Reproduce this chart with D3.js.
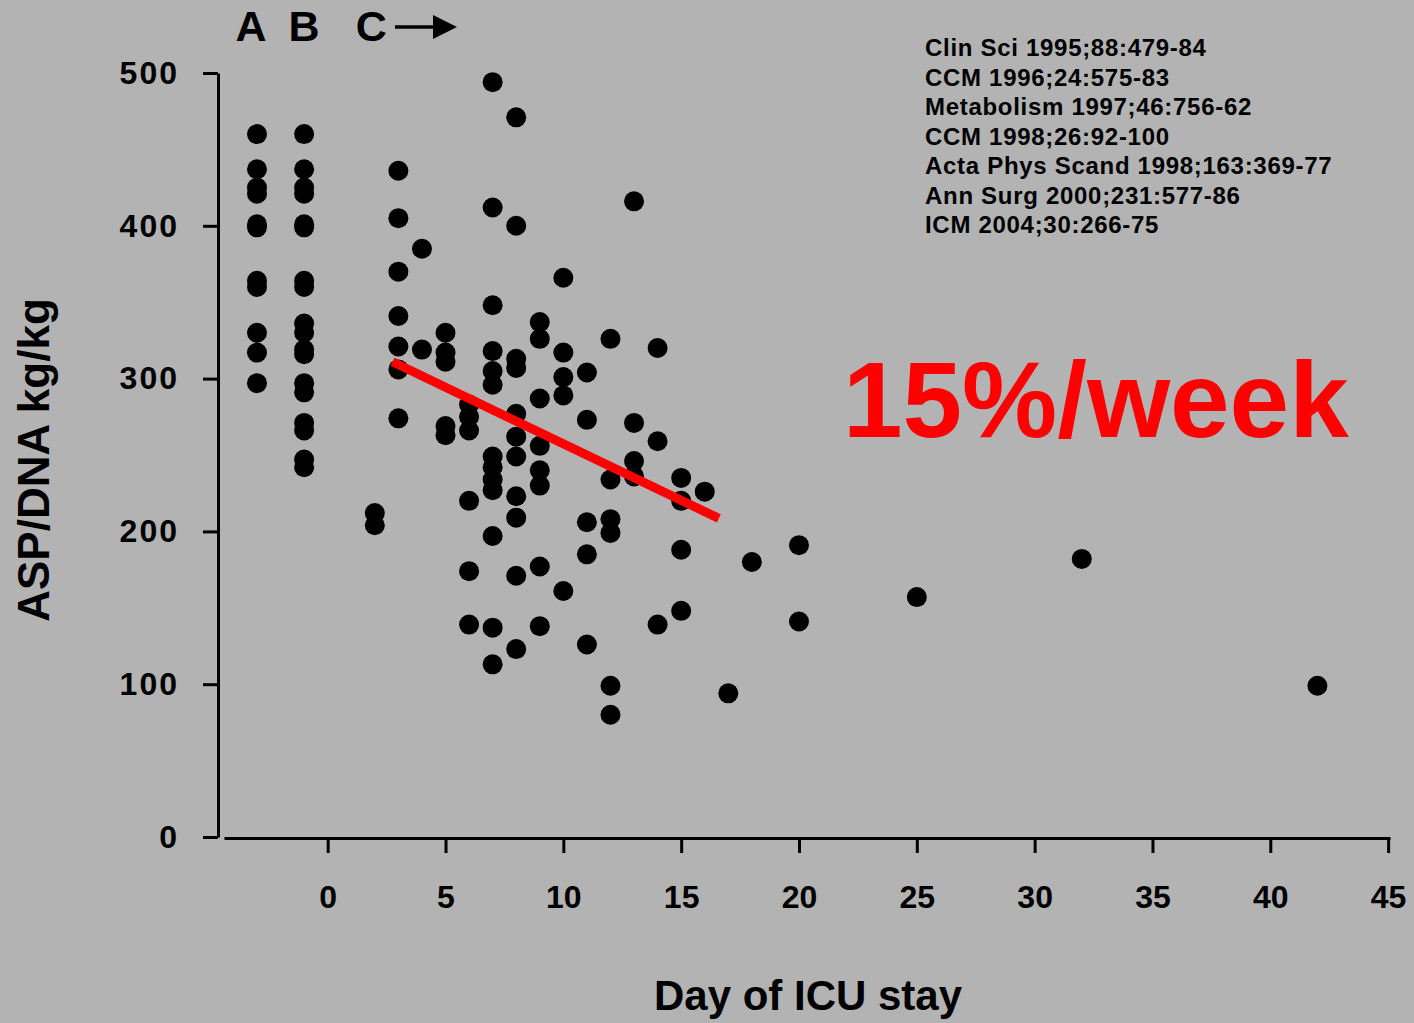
<!DOCTYPE html>
<html>
<head>
<meta charset="utf-8">
<script src="https://cdn.jsdelivr.net/npm/d3@7"></script>
<style>
  html, body { margin: 0; padding: 0; background: #b2b3b2; }
  svg { display: block; font-family: "Liberation Sans", Arial, sans-serif; font-weight: bold; }
</style>
</head>
<body>
<svg width="1414" height="1023"></svg>
<script>
// ASP/DNA (kg/kg) by day of ICU stay, grouped by day
const days = [-3, -1, 2, 3, 4, 5, 6, 7, 8, 9, 10, 11, 12, 13, 14, 15, 16, 17, 18, 20, 25, 32, 42];
const aspByDay = [
  [460, 437, 425, 421, 401, 399, 364, 360, 330, 317, 297],
  [460, 437, 425, 421, 401, 399, 364, 360, 336, 330, 319, 316, 297, 291, 271, 266, 247, 242],
  [212, 204],
  [436, 405, 370, 341, 321, 306, 274],
  [385, 319],
  [330, 317, 311, 269, 263],
  [283, 275, 266, 220, 174, 139],
  [494, 412, 348, 318, 305, 296, 249, 242, 234, 227, 197, 137, 113],
  [471, 400, 313, 307, 277, 262, 249, 223, 209, 171, 123],
  [337, 326, 287, 256, 240, 230, 177, 138],
  [366, 317, 301, 289, 161],
  [304, 273, 206, 185, 126],
  [326, 234, 208, 199, 99, 80],
  [416, 271, 246, 236],
  [320, 259, 139],
  [235, 220, 188, 148],
  [226],
  [94],
  [180],
  [191, 141],
  [157],
  [182],
  [99]
];

const xTicks = [0, 5, 10, 15, 20, 25, 30, 35, 40, 45];
const yTicks = [0, 100, 200, 300, 400, 500];

// regression line endpoints (day, ASP/DNA)
const fitLine = [[2.75, 311], [16.6, 208.5]];

const references = [
  'Clin Sci 1995;88:479-84',
  'CCM 1996;24:575-83',
  'Metabolism 1997;46:756-62',
  'CCM 1998;26:92-100',
  'Acta Phys Scand 1998;163:369-77',
  'Ann Surg 2000;231:577-86',
  'ICM 2004;30:266-75'
];

const phaseLabels = [{ day: -3.25, text: 'A' }, { day: -1, text: 'B' }, { day: 1.85, text: 'C' }];

const points = days.flatMap((d, i) => aspByDay[i].map(v => ({ day: d, asp: v })));

const svg = d3.select('svg');

const x = d3.scaleLinear().domain([-4.4, 45.08]).range([224, 1390]);
const y = d3.scaleLinear().domain([0, 500]).range([837, 73]);

const yAxis = svg.append('g')
    .attr('transform', 'translate(218,0)')
    .call(d3.axisLeft(y).tickValues(yTicks).tickSize(15).tickSizeOuter(0).tickPadding(24));

const xAxis = svg.append('g')
    .attr('transform', 'translate(0,838)')
    .call(d3.axisBottom(x).tickValues(xTicks).tickSize(15).tickSizeOuter(0).tickPadding(32));

[yAxis, xAxis].forEach(ax => {
  ax.selectAll('path, line').attr('stroke', '#000').attr('stroke-width', 3);
  ax.selectAll('text')
      .attr('fill', '#000')
      .style('font-size', '32px')
      .style('font-family', '"Liberation Sans", Arial, sans-serif')
      .style('font-weight', 'bold');
});
yAxis.selectAll('text').style('letter-spacing', '2px');

// dots
svg.append('g')
    .attr('fill', '#000')
  .selectAll('circle')
  .data(points)
  .join('circle')
    .attr('cx', d => x(d.day))
    .attr('cy', d => y(d.asp))
    .attr('r', 10);

// trend line
svg.append('path')
    .datum(fitLine)
    .attr('fill', 'none')
    .attr('stroke', '#ff0000')
    .attr('stroke-width', 9)
    .attr('d', d3.line().x(d => x(d[0])).y(d => y(d[1])));

// axis titles
svg.append('text')
    .attr('x', 808)
    .attr('y', 1010)
    .attr('text-anchor', 'middle')
    .style('font-size', '42px')
    .text('Day of ICU stay');

svg.append('text')
    .attr('transform', 'translate(49,460) rotate(-90)')
    .attr('text-anchor', 'middle')
    .style('font-size', '44px')
    .text('ASP/DNA kg/kg');

// A B C labels with arrow
svg.append('g')
  .selectAll('text')
  .data(phaseLabels)
  .join('text')
    .attr('x', d => x(d.day))
    .attr('y', 41)
    .attr('text-anchor', 'middle')
    .style('font-size', '43px')
    .text(d => d.text);

svg.append('line')
    .attr('x1', 395).attr('y1', 27)
    .attr('x2', 436).attr('y2', 27)
    .attr('stroke', '#000')
    .attr('stroke-width', 3.5);

svg.append('path')
    .attr('d', 'M433,15 L457,27 L433,39 Z')
    .attr('fill', '#000');

// references
svg.append('g')
  .selectAll('text')
  .data(references)
  .join('text')
    .attr('x', 925)
    .attr('y', (d, i) => 56 + i * 29.5)
    .style('font-size', '24px')
    .style('letter-spacing', '0.7px')
    .text(d => d);

// slope annotation
svg.append('text')
    .attr('x', 843)
    .attr('y', 437)
    .attr('fill', '#ff0000')
    .style('font-size', '107px')
    .text('15%/week');
</script>
</body>
</html>
